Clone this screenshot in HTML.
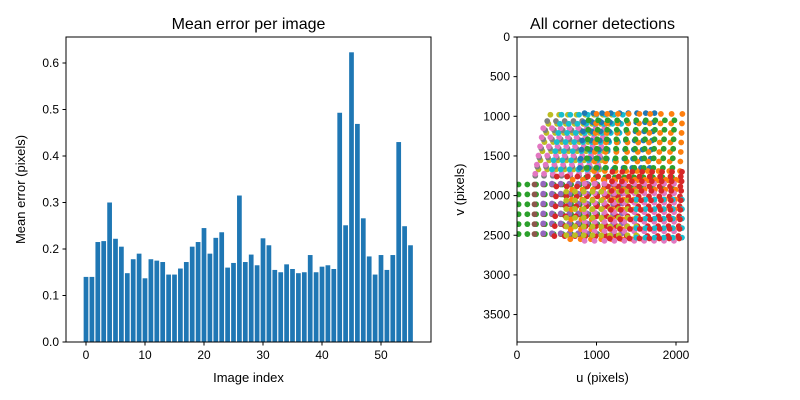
<!DOCTYPE html>
<html><head><meta charset="utf-8"><style>
body{margin:0;background:#fff;}
svg{display:block;font-family:"Liberation Sans",sans-serif;}
</style></head><body>
<svg id="fig" width="800" height="400" xmlns="http://www.w3.org/2000/svg">
<g id="left"></g>
<g id="right"></g>
</svg>
<script>
const barValues=[0.14,0.14,0.215,0.217,0.30,0.222,0.205,0.148,0.178,0.19,0.137,0.178,0.175,0.172,0.145,0.145,0.158,0.172,0.205,0.215,0.245,0.19,0.224,0.236,0.16,0.17,0.315,0.172,0.188,0.165,0.223,0.208,0.155,0.15,0.167,0.157,0.148,0.15,0.187,0.15,0.162,0.165,0.157,0.493,0.251,0.623,0.469,0.266,0.184,0.145,0.187,0.155,0.187,0.43,0.249,0.208];
const barXTicks=[0,10,20,30,40,50];
const barYTicks=[0.0,0.1,0.2,0.3,0.4,0.5,0.6];
const scatterXTicks=[0,1000,2000];
const scatterYTicks=[0,500,1000,1500,2000,2500,3000,3500];
// per-image grid: origin u, origin v, spacing u, spacing v, cols, rows, u-shift per row, color
const gridU0=[420,380,330,560,850,1000,900,20,220,330,500,700,850,620,1500,1200];
const gridV0=[980,1060,1150,980,960,970,1050,1860,1860,1850,1760,1800,1850,1950,2050,1700];
const gridDU=[110,110,110,110,110,135,120,110,110,110,130,130,125,110,115,125];
const gridDV=[115,115,115,115,115,120,120,125,125,125,125,125,120,110,120,120];
const gridCols=[8,8,8,8,9,9,10,10,10,10,13,11,10,9,6,8];
const gridRows=[7,7,6,7,7,8,8,6,6,6,7,7,7,6,5,8];
const gridSkew=[-25,-25,-20,-20,-10,-5,-5,0,0,0,-5,-5,0,0,0,-5];
const gridColor=['#bcbd22','#7f7f7f','#e377c2','#17becf','#1f77b4','#ff7f0e','#2ca02c','#2ca02c','#8c564b','#9467bd','#d62728','#ff7f0e','#e377c2','#bcbd22','#17becf','#d62728'];

const NS='http://www.w3.org/2000/svg';
function mk(parent,tag,attrs,text){const e=document.createElementNS(NS,tag);for(const k in attrs)e.setAttribute(k,attrs[k]);if(text!==undefined)e.textContent=text;parent.appendChild(e);return e;}

// LEFT
const L=document.getElementById('left');
const lx0=66,lx1=431,ly0=37,ly1=342;
const bx=v=>86+v*5.9, by=v=>342-v*465;
for(let i=0;i<barValues.length;i++){
 const w=0.8*5.9;
 const r=mk(L,'rect',{x:bx(i)-w/2,y:by(barValues[i]),width:w,height:342-by(barValues[i]),fill:'#1f77b4'});
 
 
}
mk(L,'rect',{x:lx0,y:ly0,width:lx1-lx0,height:ly1-ly0,fill:'none',stroke:'#000','stroke-width':1});
barXTicks.forEach(t=>{const x=bx(t);mk(L,'line',{x1:x,x2:x,y1:342,y2:345.5,stroke:'#000'});
 const tx=mk(L,'text',{x:x,y:359,'font-size':12,'text-anchor':'middle'},t);
 });
barYTicks.forEach(t=>{const y=by(t);mk(L,'line',{x1:62.5,x2:66,y1:y,y2:y,stroke:'#000'});
 const tx=mk(L,'text',{x:59,y:y+4,'font-size':12,'text-anchor':'end'},t.toFixed(1));
 });
let t1=mk(L,'text',{x:248.5,y:29,'font-size':16,'text-anchor':'middle'},'Mean error per image');

t1=mk(L,'text',{x:248.5,y:382,'font-size':13,'text-anchor':'middle'},'Image index');

t1=mk(L,'text',{x:0,y:0,'font-size':13,'text-anchor':'middle',transform:'translate(25,189.5) rotate(-90)'},'Mean error (pixels)');


// RIGHT
const R=document.getElementById('right');
const sx=u=>517+u*0.0795, sy=v=>37+v*0.0793;
const clip=mk(R,'clipPath',{id:'sc'});mk(clip,'rect',{x:517,y:37,width:171,height:305});
const pts=mk(R,'g',{'clip-path':'url(#sc)'});
for(let g=0;g<gridU0.length;g++){
 for(let r=0;r<gridRows[g];r++)for(let c=0;c<gridCols[g];c++){
  const u=gridU0[g]+c*gridDU[g]+r*gridSkew[g], v=gridV0[g]+r*gridDV[g];
  const p=mk(pts,'circle',{cx:sx(u),cy:sy(v),r:2.9,fill:gridColor[g]});
  
  
 }
}
mk(R,'rect',{x:517,y:37,width:171,height:305,fill:'none',stroke:'#000'});
scatterXTicks.forEach(t=>{const x=sx(t);mk(R,'line',{x1:x,x2:x,y1:342,y2:345.5,stroke:'#000'});
 const tx=mk(R,'text',{x:x,y:359,'font-size':12,'text-anchor':'middle'},t);
 });
scatterYTicks.forEach(t=>{const y=sy(t);mk(R,'line',{x1:513.5,x2:517,y1:y,y2:y,stroke:'#000'});
 const tx=mk(R,'text',{x:510,y:y+4,'font-size':12,'text-anchor':'end'},t);
 });
t1=mk(R,'text',{x:602.5,y:29,'font-size':16,'text-anchor':'middle'},'All corner detections');

t1=mk(R,'text',{x:602.5,y:382,'font-size':13,'text-anchor':'middle'},'u (pixels)');

t1=mk(R,'text',{x:0,y:0,'font-size':13,'text-anchor':'middle',transform:'translate(464,189.5) rotate(-90)'},'v (pixels)');

</script>
</body></html>
